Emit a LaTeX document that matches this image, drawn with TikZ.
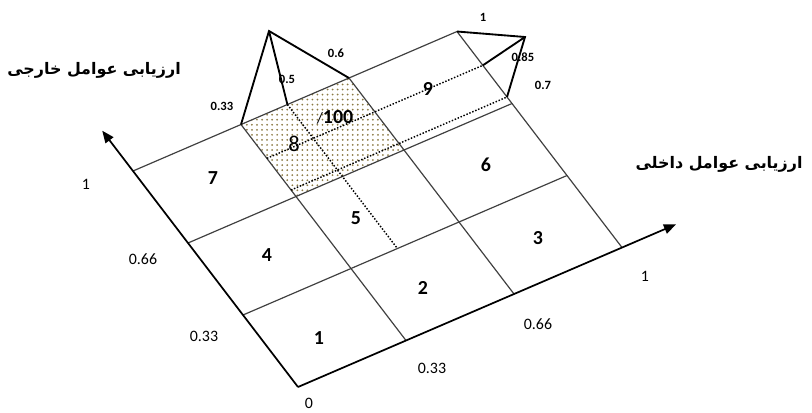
\documentclass[tikz,border=0pt]{standalone}
\usepackage{fontspec}
\setmainfont{Carlito}
\newfontfamily\persianfont[Script=Arabic]{DejaVu Sans}
\TeXXeTstate=1
\usepackage{tikz}
\usetikzlibrary{arrows.meta, patterns.meta}
\definecolor{gridgray}{HTML}{404040}
\definecolor{dotolive}{HTML}{8C7B45}

\begin{document}
\begin{tikzpicture}[x=0.0265cm, y=-0.0265cm,
  gridline/.style={draw=gridgray, line width=0.9pt},
  axis/.style={draw=black, line width=1.3pt, -{Triangle[length=3.2mm, width=2.6mm]}},
  fuzzy/.style={draw=black, line width=1.4pt},
  cut/.style={draw=black, line width=1.1pt, dash pattern=on 1.1pt off 1.3pt},
  cellnum/.style={font=\fontsize{15}{18}\selectfont\bfseries},
  tick/.style={font=\fontsize{12}{14}\selectfont},
  fval/.style={font=\fontsize{9.5}{11}\selectfont\bfseries},
  title/.style={font=\persianfont\bfseries\fontsize{12}{14}\selectfont},
]
  \useasboundingbox (0,0) rectangle (812,412);

  \foreach \i in {0,...,3}
    \foreach \j in {0,...,3}
      \coordinate (g\i\j) at ({298+108*\i-55*\j},{387-46.5*\i-72*\j});
  \coordinate (xend) at (676,224.3);
  \coordinate (yend) at (102.2,130.7);
  \coordinate (top5) at (287.4,104.5);
  \coordinate (bot5) at (397.4,248.5);
  \coordinate (left7) at (291,190);
  \coordinate (right7) at (507,97);
  \coordinate (left85) at (266.9,158.3);
  \coordinate (right85) at (482.9,65.3);
  \coordinate (apexA) at (269,31);
  \coordinate (apexB) at (525,37);

  \fill[pattern={Dots[distance=3.8pt, radius=0.75pt]}, pattern color=dotolive]
    (g12) -- (g22) -- (g23) -- (g13) -- cycle;

  \foreach \k in {1,2,3} {
    \draw[gridline] (g0\k) -- (g3\k);
    \draw[gridline] (g\k0) -- (g\k3);
  }
  \draw[axis] (g00) -- (xend);
  \draw[axis] (g00) -- (yend);

  \draw[cut] (top5) -- (bot5);
  \draw[cut] (left85) -- (right85);
  \draw[cut] (left7) -- (right7);

  \draw[fuzzy] (g13) -- (apexA) -- (g23);
  \draw[fuzzy] (apexA) -- (top5);
  \draw[fuzzy] (g33) -- (apexB) -- (right7);
  \draw[fuzzy] (apexB) -- (right85);

  \node[cellnum] (c1) at (319,338) {1};
  \node[cellnum] (c2) at (423,288) {2};
  \node[cellnum] (c3) at (538,238) {3};
  \node[cellnum] (c4) at (267,255) {4};
  \node[cellnum] (c5) at (356,218) {5};
  \node[cellnum] (c6) at (486,165) {6};
  \node[cellnum] (c7) at (213,178) {7};
  \node[font=\fontsize{17}{20}\selectfont] (c8) at (294,144) {8};
  \node[cellnum] (c9) at (428,89) {9};
  \node[cellnum] (share) at (335,117) {{\mdseries\fontsize{12}{14}\selectfont/}100};

  \node[tick] (x0) at (309,403) {0};
  \node[tick] (x33) at (432,368) {0.33};
  \node[tick] (x66) at (538,324) {0.66};
  \node[tick] (x1) at (645,276) {1};
  \node[tick] (y33) at (204,336) {0.33};
  \node[tick] (y66) at (143,259) {0.66};
  \node[tick] (y1) at (86,184) {1};

  \node[fval] (fa1) at (222,106) {0.33};
  \node[fval] (fa2) at (287,79) {0.5};
  \node[fval] (fa3) at (336,53) {0.6};
  \node[fval] (fb1) at (483,17) {1};
  \node[fval] (fb2) at (523,57) {0.85};
  \node[fval] (fb3) at (543,85) {0.7};

  \node[title] (extlabel) at (94,70) {\beginR ارزیابی عوامل خارجی\endR};
  \node[title] (intlabel) at (719,164) {\beginR ارزیابی عوامل داخلی\endR};
\end{tikzpicture}
\end{document}
